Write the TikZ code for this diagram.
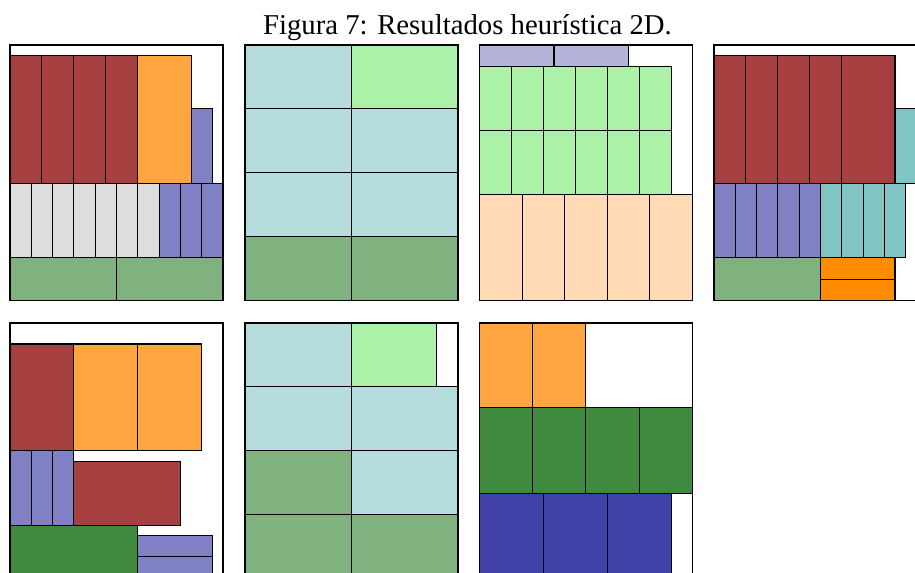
\documentclass[tikz,border=0pt]{standalone}
\usepackage{fontspec}
\setmainfont{Liberation Serif}
\definecolor{cred}{RGB}{166,64,64}
\definecolor{corange}{RGB}{255,166,64}
\definecolor{cblue}{RGB}{128,128,196}
\definecolor{cgray}{RGB}{221,221,221}
\definecolor{cgreen}{RGB}{128,178,128}
\definecolor{clblue}{RGB}{180,220,220}
\definecolor{clgreen}{RGB}{171,242,168}
\definecolor{clav}{RGB}{180,180,218}
\definecolor{cpeach}{RGB}{255,218,180}
\definecolor{cteal}{RGB}{128,196,196}
\definecolor{cdorange}{RGB}{255,140,0}
\definecolor{cdgreen}{RGB}{64,138,64}
\definecolor{cdblue}{RGB}{64,64,166}
\begin{document}
\begin{tikzpicture}[x=1mm,y=1mm,
  it/.style={draw=black,line width=1.4pt},
  bin/.style={draw=black,line width=2.4pt}]
\useasboundingbox (0,0) rectangle (429.6,-269);
\clip (0,0) rectangle (429.6,-269);
\node[font=\fontsize{38.4}{46}\selectfont, anchor=base, inner sep=0pt] (caption) at (219.5,-16.1) {Figura 7: Resultados heurística 2D.};

% panel 1
\begin{scope}[shift={(4.7,-141.1)}]
\foreach \a in {0,15,30,45} \draw[it,fill=cred] (\a,55) rectangle ++(15,60);
\draw[it,fill=corange] (60,55) rectangle (85,115);
\draw[it,fill=cblue] (85,55) rectangle (95,90);
\foreach \a in {0,10,...,60} \draw[it,fill=cgray] (\a,20) rectangle ++(10,35);
\foreach \a in {70,80,90} \draw[it,fill=cblue] (\a,20) rectangle ++(10,35);
\draw[it,fill=cgreen] (0,0) rectangle (50,20);
\draw[it,fill=cgreen] (50,0) rectangle (100,20);
\draw[bin] (0,0) rectangle (100,120);
\end{scope}

% panel 2
\begin{scope}[shift={(115.0,-141.1)}]
\draw[it,fill=clblue] (0,90) rectangle (50,120);
\draw[it,fill=clgreen] (50,90) rectangle (100,120);
\draw[it,fill=clblue] (0,60) rectangle (50,90);
\draw[it,fill=clblue] (50,60) rectangle (100,90);
\draw[it,fill=clblue] (0,30) rectangle (50,60);
\draw[it,fill=clblue] (50,30) rectangle (100,60);
\draw[it,fill=cgreen] (0,0) rectangle (50,30);
\draw[it,fill=cgreen] (50,0) rectangle (100,30);
\draw[bin] (0,0) rectangle (100,120);
\end{scope}

% panel 3
\begin{scope}[shift={(225.1,-141.1)}]
\draw[it,fill=clav] (0,110) rectangle (35,120);
\draw[it,fill=clav] (35,110) rectangle (70,120);
\foreach \b in {50,80} \foreach \a in {0,15,...,75} \draw[it,fill=clgreen] (\a,\b) rectangle ++(15,30);
\foreach \a in {0,20,...,80} \draw[it,fill=cpeach] (\a,0) rectangle ++(20,50);
\draw[bin] (0,0) rectangle (100,120);
\end{scope}

% panel 4
\begin{scope}[shift={(335.2,-141.1)}]
\foreach \a in {0,15,30,45} \draw[it,fill=cred] (\a,55) rectangle ++(15,60);
\draw[it,fill=cred] (60,55) rectangle (85,115);
\draw[it,fill=cteal] (85,55) rectangle (95,90);
\foreach \a in {0,10,...,40} \draw[it,fill=cblue] (\a,20) rectangle ++(10,35);
\foreach \a in {50,60,70,80} \draw[it,fill=cteal] (\a,20) rectangle ++(10,35);
\draw[it,fill=cgreen] (0,0) rectangle (50,20);
\draw[it,fill=cdorange] (50,10) rectangle (85,20);
\draw[it,fill=cdorange] (50,0) rectangle (85,10);
\draw[bin] (0,0) rectangle (100,120);
\end{scope}

% panel 5
\begin{scope}[shift={(4.7,-271.5)}]
\draw[it,fill=cred] (0,60) rectangle (30,110);
\draw[it,fill=corange] (30,60) rectangle (60,110);
\draw[it,fill=corange] (60,60) rectangle (90,110);
\foreach \a in {0,10,20} \draw[it,fill=cblue] (\a,25) rectangle ++(10,35);
\draw[it,fill=cred] (30,25) rectangle (80,55);
\draw[it,fill=cdgreen] (0,0) rectangle (60,25);
\draw[it,fill=cblue] (60,10) rectangle (95,20);
\draw[it,fill=cblue] (60,0) rectangle (95,10);
\draw[bin] (0,0) rectangle (100,120);
\end{scope}

% panel 6
\begin{scope}[shift={(115.0,-271.5)}]
\draw[it,fill=clblue] (0,90) rectangle (50,120);
\draw[it,fill=clgreen] (50,90) rectangle (90,120);
\draw[it,fill=clblue] (0,60) rectangle (50,90);
\draw[it,fill=clblue] (50,60) rectangle (100,90);
\draw[it,fill=cgreen] (0,30) rectangle (50,60);
\draw[it,fill=clblue] (50,30) rectangle (100,60);
\draw[it,fill=cgreen] (0,0) rectangle (50,30);
\draw[it,fill=cgreen] (50,0) rectangle (100,30);
\draw[bin] (0,0) rectangle (100,120);
\end{scope}

% panel 7
\begin{scope}[shift={(225.1,-271.5)}]
\draw[it,fill=corange] (0,80) rectangle (25,120);
\draw[it,fill=corange] (25,80) rectangle (50,120);
\foreach \a in {0,25,50,75} \draw[it,fill=cdgreen] (\a,40) rectangle ++(25,40);
\foreach \a in {0,30,60} \draw[it,fill=cdblue] (\a,0) rectangle ++(30,40);
\draw[bin] (0,0) rectangle (100,120);
\end{scope}
\end{tikzpicture}
\end{document}
